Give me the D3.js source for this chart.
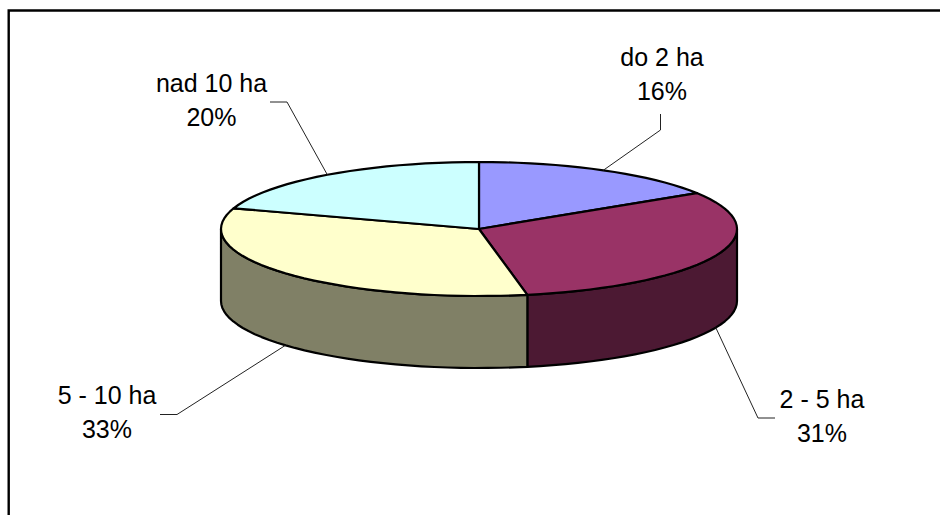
<!DOCTYPE html>
<html>
<head>
<meta charset="utf-8">
<script src="https://cdn.jsdelivr.net/npm/d3@7"></script>
<style>
  html, body { margin: 0; padding: 0; background: #fff; }
  svg { display: block; }
</style>
</head>
<body>
<div id="root"></div>
<script>
const categories = ['do 2 ha', '2 - 5 ha', '5 - 10 ha', 'nad 10 ha']
const shares = [16, 31, 33, 20]
const topColors = ['#9999ff', '#993366', '#ffffcc', '#ccffff']
const sideColors = ['#4c3380', '#4c1933', '#808066', '#668080']

const width = 940
const height = 515
const cx = 479
const cy = 229
const rx = 258
const ry = 67
const depth = 72

// label centre + baseline, then the leader's elbow and end
const labelX = [662, 822, 107, 211.5]
const labelY = [66, 408, 404, 92]
const elbows = [[660.5, 130], [758, 418], [177, 414.5], [287, 102]]
const leaderEnds = [[660.5, 114], [775, 418], [160, 414.5], [270, 102]]

const svg = d3.select('#root').append('svg').attr('width', width).attr('height', height)

// frame has only its top and left sides in the picture
svg.append('path')
  .attr('d', `M8.7,${height} V10.5 H${width}`)
  .attr('fill', 'none')
  .attr('stroke', '#000')
  .attr('stroke-width', 2.4)

const x = d3.scaleLinear().domain([-1, 1]).range([cx - rx, cx + rx])
const y = d3.scaleLinear().domain([-1, 1]).range([cy - ry, cy + ry])

const pie = d3.pie().sort(null).value((d) => d)
const slices = pie(shares)

const line = d3.line()

const project = (a, drop = 0) => [x(Math.sin(a)), y(-Math.cos(a)) + drop]

function rimPoints(a0, a1, drop = 0) {
  const n = Math.max(2, Math.ceil((a1 - a0) / (Math.PI / 60)))
  return d3.range(n + 1).map((i) => project(a0 + ((a1 - a0) * i) / n, drop))
}

const pieG = svg.append('g')
  .attr('stroke', '#000')
  .attr('stroke-width', 2.2)
  .attr('stroke-linejoin', 'round')

// outer wall, only the front half of the disc can be seen
pieG.selectAll('path.side')
  .data(slices.filter((d) => d.endAngle > Math.PI / 2 && d.startAngle < (3 * Math.PI) / 2))
  .join('path')
  .attr('class', 'side')
  .attr('fill', (d) => sideColors[d.index])
  .attr('d', (d) => {
    const a0 = Math.max(d.startAngle, Math.PI / 2)
    const a1 = Math.min(d.endAngle, (3 * Math.PI) / 2)
    return line([...rimPoints(a0, a1), ...rimPoints(a0, a1, depth).reverse()]) + 'Z'
  })

pieG.selectAll('path.top')
  .data(slices)
  .join('path')
  .attr('class', 'top')
  .attr('fill', (d) => topColors[d.index])
  .attr('d', (d) => line([[x(0), y(0)], ...rimPoints(d.startAngle, d.endAngle)]) + 'Z')

// leaders start on the rim at the middle of each slice
function leaderStart(d) {
  const mid = (d.startAngle + d.endAngle) / 2
  const front = Math.cos(mid) < 0
  return project(mid, front ? depth : 0)
}

svg.append('g')
  .attr('fill', 'none')
  .attr('stroke', '#222')
  .attr('stroke-width', 1)
  .selectAll('path')
  .data(slices)
  .join('path')
  .attr('d', (d) => line([leaderStart(d), elbows[d.index], leaderEnds[d.index]]))

const labels = svg.append('g')
  .attr('font-family', '"Liberation Sans", Arial, sans-serif')
  .attr('font-size', 25)
  .attr('fill', '#000')
  .attr('text-anchor', 'middle')
  .selectAll('g')
  .data(slices)
  .join('g')

labels.append('text')
  .attr('x', (d) => labelX[d.index])
  .attr('y', (d) => labelY[d.index])
  .text((d) => categories[d.index])

labels.append('text')
  .attr('x', (d) => labelX[d.index])
  .attr('y', (d) => labelY[d.index] + 34)
  .text((d) => `${d.value}%`)
</script>
</body>
</html>
